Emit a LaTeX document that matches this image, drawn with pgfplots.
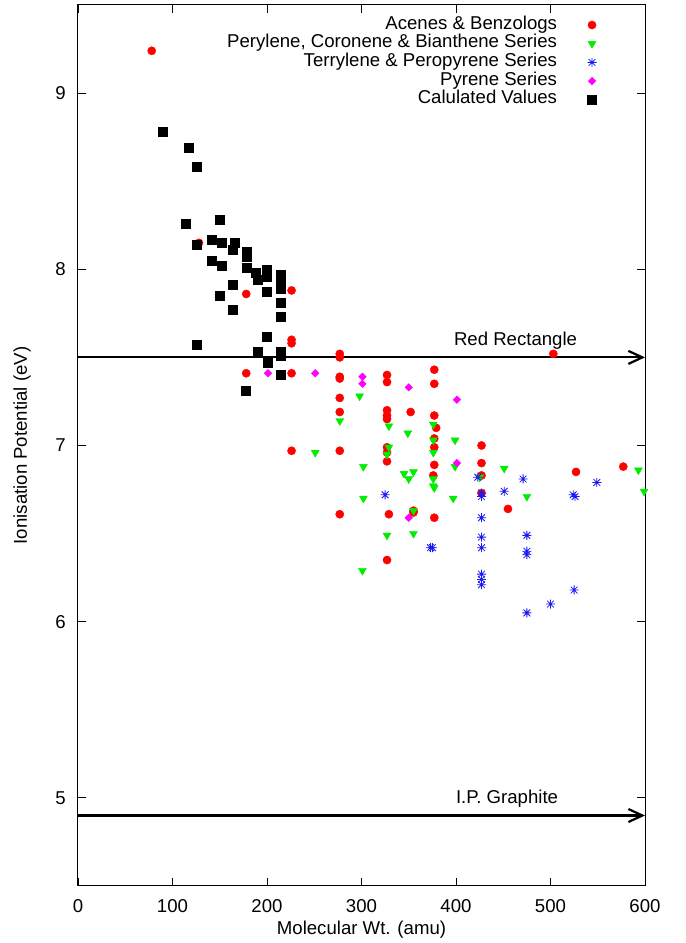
\documentclass[border=0pt]{standalone}
\usepackage{pgfplots}
\pgfplotsset{compat=1.18}
\usepackage{fontspec}
\setmainfont{Liberation Sans}
\usetikzlibrary{arrows.meta}
\pgfdeclareplotmark{gpstar}{%
  \pgfpathmoveto{\pgfqpoint{-\pgfplotmarksize}{0pt}}\pgfpathlineto{\pgfqpoint{\pgfplotmarksize}{0pt}}%
  \pgfpathmoveto{\pgfqpoint{0pt}{-\pgfplotmarksize}}\pgfpathlineto{\pgfqpoint{0pt}{\pgfplotmarksize}}%
  \pgfpathmoveto{\pgfqpoint{-0.75\pgfplotmarksize}{-0.75\pgfplotmarksize}}\pgfpathlineto{\pgfqpoint{0.75\pgfplotmarksize}{0.75\pgfplotmarksize}}%
  \pgfpathmoveto{\pgfqpoint{-0.75\pgfplotmarksize}{0.75\pgfplotmarksize}}\pgfpathlineto{\pgfqpoint{0.75\pgfplotmarksize}{-0.75\pgfplotmarksize}}%
  \pgfusepathqstroke}
\pgfdeclareplotmark{gpdiamond}{%
  \pgfpathmoveto{\pgfqpoint{0pt}{\pgfplotmarksize}}%
  \pgfpathlineto{\pgfqpoint{\pgfplotmarksize}{0pt}}%
  \pgfpathlineto{\pgfqpoint{0pt}{-\pgfplotmarksize}}%
  \pgfpathlineto{\pgfqpoint{-\pgfplotmarksize}{0pt}}%
  \pgfpathclose
  \pgfusepathqfillstroke}
\definecolor{gpred}{rgb}{1,0,0}
\definecolor{gpgreen}{rgb}{0,0.93,0}
\definecolor{gpblue}{rgb}{0.1,0.1,0.95}
\definecolor{gpmag}{rgb}{1,0,1}
\begin{document}
\begin{tikzpicture}[font=\fontsize{18.6}{22}\selectfont]
\begin{axis}[
  scale only axis, width=567pt, height=881pt,
  xmin=0, xmax=600, ymin=4.5, ymax=9.5,
  xtick={0,100,...,600}, ytick={5,6,7,8,9},
  /pgf/number format/assume math mode=true,
  tick align=inside, major tick length=8pt,
  axis line style={line width=1pt}, every tick/.style={line width=0.8pt, black},
  xticklabel style={anchor=center, inner sep=0pt, yshift=-20pt},
  yticklabel style={anchor=east, inner sep=0pt, xshift=-12pt},
  every axis x label/.style={at={(axis description cs:0.5,-0.0499)}, anchor=center},
  every axis y label/.style={at={(axis description cs:-0.0988,0.5)}, rotate=90, anchor=center},
  xlabel={Molecular Wt. (amu)},
  ylabel={Ionisation Potential (eV)},
  clip=false,
  legend plot pos=right,
  legend cell align=right,
  legend style={at={(axis description cs:0.9145,0.9879)}, anchor=north east, draw=none, fill=none,
    inner sep=0pt, outer sep=0pt, row sep=0pt, column sep=30.5pt,
    nodes={inner sep=0pt, text height=13.5pt, text depth=5.2pt}},
]
\addplot[only marks, mark=*, mark size=4.1pt, color=gpred] coordinates {
(78,9.24) (128,8.15) (178,7.86) (226,7.88) (226,7.60) (226,7.58) (178,7.41) (226,7.41)
(277,7.52) (277,7.50) (277,7.39) (277,7.38) (277,7.27) (277,7.19) (226,6.97) (277,6.97)
(327,7.40) (327,7.36) (327,7.20) (327,7.17) (327,7.15) (327,6.99) (327,6.96) (327,6.91)
(352,7.19) (377,7.43) (377,7.35) (377,7.17) (379,7.10) (377,7.04) (377,6.99) (377,6.89)
(376,6.83) (277,6.61) (329,6.61) (327,6.35) (355,6.63) (355,6.62) (377,6.59) (503,7.52)
(427,7.00) (427,6.90) (427,6.83) (427,6.73) (455,6.64) (527,6.85) (577,6.88)
};
\addlegendentry{Acenes \& Benzologs}
\addplot[only marks, mark=triangle*, mark size=4.6pt, mark options={rotate=180}, color=gpgreen] coordinates {
(298,7.28) (277,7.14) (329,7.11) (349,7.07) (376,7.12) (376,7.03) (376,6.96) (329,6.99)
(327,6.95) (251,6.96) (302,6.88) (345,6.84) (355,6.85) (350,6.81) (376,6.81) (376,6.77)
(377,6.76) (302,6.70) (355,6.63) (327,6.49) (355,6.50) (301,6.29) (399,7.03) (399,6.88)
(425,6.82) (451,6.87) (397,6.70) (475,6.71) (593,6.86) (599,6.74)
};
\addlegendentry{Perylene, Coronene \& Bianthene Series}
\addplot[only marks, mark=gpstar, mark size=4.5pt, line width=0.8pt, color=gpblue] coordinates {
(325,6.72) (423,6.82) (471,6.81) (549,6.79) (427,6.73) (427,6.71) (451,6.74) (524,6.72)
(526,6.71) (427,6.59) (427,6.48) (427,6.42) (373,6.42) (375,6.42) (475,6.49) (475,6.40)
(475,6.38) (427,6.27) (427,6.24) (427,6.21) (525,6.18) (500,6.10) (475,6.05)
};
\addlegendentry{Terrylene \& Peropyrene Series}
\addplot[only marks, mark=gpdiamond, mark size=3.8pt, color=gpmag] coordinates {
(201,7.41) (251,7.41) (301,7.39) (301,7.35) (350,7.33) (401,7.26) (401,6.90) (350,6.59)
};
\addlegendentry{Pyrene Series}
\addplot[only marks, mark=square*, mark size=4.5pt, color=black] coordinates {
(90,8.78) (117,8.69) (126,8.58) (114,8.26) (150,8.28) (126,8.14) (141,8.17) (152,8.15)
(166,8.15) (164,8.11) (179,8.10) (179,8.07) (141,8.05) (152,8.02) (179,8.01) (188,7.98)
(200,8.00) (200,7.96) (190,7.94) (215,7.97) (215,7.94) (215,7.89) (164,7.91) (200,7.87)
(150,7.85) (215,7.81) (164,7.77) (215,7.73) (200,7.62) (126,7.57) (190,7.53) (215,7.53)
(215,7.51) (201,7.47) (215,7.40) (177,7.31)
};
\addlegendentry{Calulated Values}
\draw[line width=2.2pt, -{Straight Barb[length=14pt,width=13pt]}] (axis cs:0,7.5) -- (axis cs:600,7.5);
\draw[line width=2.2pt, -{Straight Barb[length=14pt,width=13pt]}] (axis cs:0,4.9) -- (axis cs:600,4.9);
\node at (axis cs:463,7.597) {Red Rectangle};
\node at (axis cs:454,4.994) {I.P. Graphite};
\end{axis}
\pgfresetboundingbox
\path (current axis.south west) ++(-78pt,-57pt) coordinate (bbA);
\path (current axis.north east) ++(40pt,5pt) coordinate (bbB);
\useasboundingbox (bbA) rectangle (bbB);
\end{tikzpicture}
\end{document}
